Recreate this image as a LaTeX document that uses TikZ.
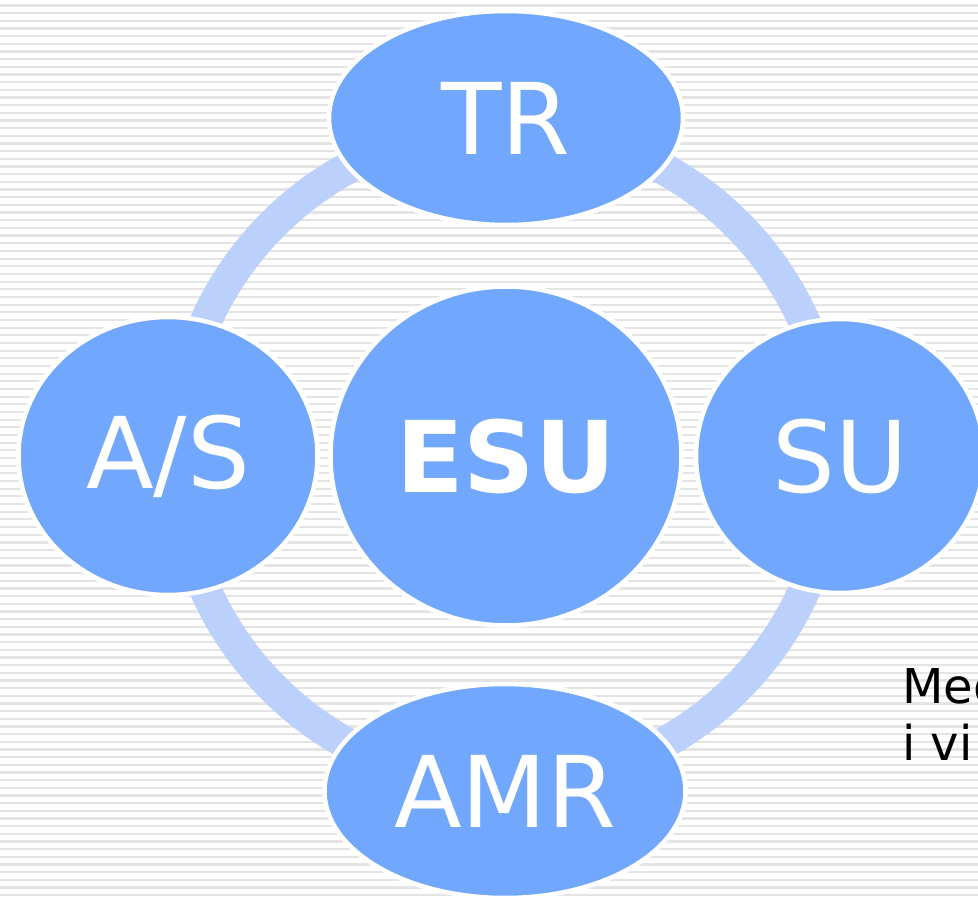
\documentclass[tikz,border=0pt]{standalone}
\usepackage{fontspec}
\setmainfont{DejaVu Sans}
\usetikzlibrary{shapes.geometric}

\definecolor{nodeblue}{RGB}{113,167,252}
\definecolor{ringblue}{RGB}{188,208,252}
\definecolor{stripe}{RGB}{228,228,228}

\begin{document}
\begin{tikzpicture}[x=1pt, y=-1pt,
    part/.style={ellipse, fill=nodeblue, draw=white, line width=4.5pt, inner sep=0pt,
                 text=white, font=\fontsize{99}{110}\selectfont},
    note/.style={anchor=base west, inner sep=0pt, font=\fontsize{48}{57}\selectfont}]

    \useasboundingbox (0,0) rectangle (978,901);
    \fill[white] (0,0) rectangle (978,901);
    \foreach \i in {0,...,117}
        \draw[stripe, line width=2.2pt] (0,5.5+7.67*\i) -- (978,5.5+7.67*\i);

    \draw[ringblue, line width=32pt] (505,456) circle (328);

    \node[part, minimum width=354pt, minimum height=214pt] (tr)  at (506,118) {TR};
    \node[part, minimum width=351pt, minimum height=339pt] (esu) at (506,456) {\bfseries ESU};
    \node[part, minimum width=299pt, minimum height=278pt] (as)  at (168,456) {A/S};
    \node[part, minimum width=288pt, minimum height=274pt] (su)  at (840,456) {SU};
    \node[part, minimum width=361pt, minimum height=214pt] (amr) at (505,791) {AMR};

    \node[note] (med) at (902,703) {Med};
    \node[note] (ivi) at (902,760) {i vi};
\end{tikzpicture}
\end{document}
